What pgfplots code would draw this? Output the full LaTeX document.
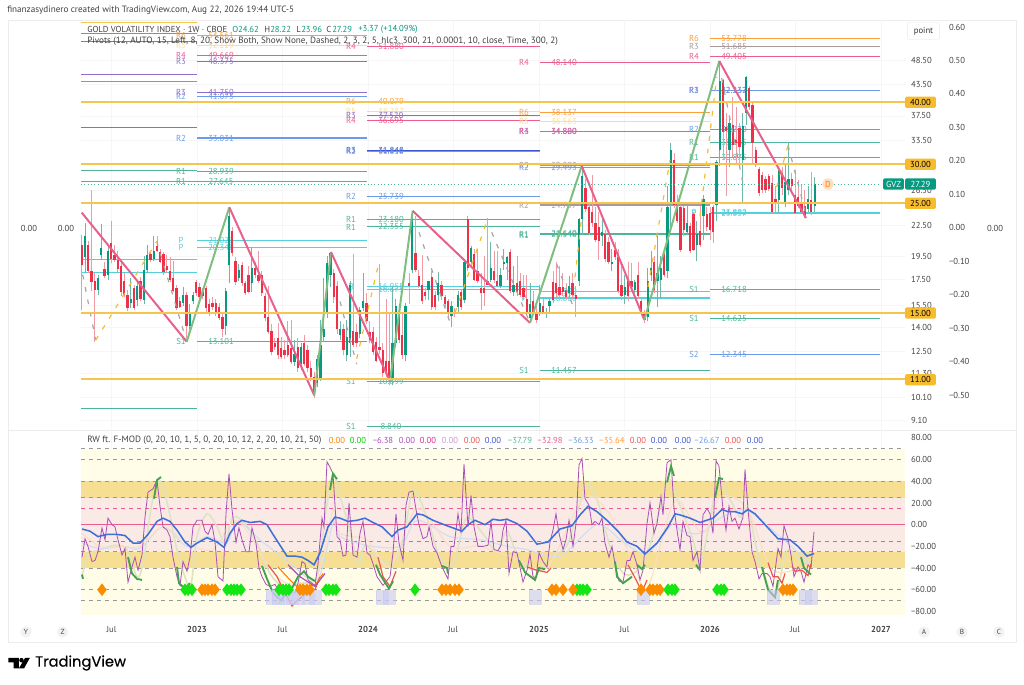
\documentclass[border=0pt]{standalone}
\usepackage{fontspec}
\setmainfont{PT Sans}
\newfontfamily\tvf[FakeBold=0.4]{Poppins}
\usepackage{pgfplots}
\usepackage{pgfplotstable}
\pgfplotsset{compat=1.18}
\definecolor{cup}{HTML}{089981}
\definecolor{cdn}{HTML}{EE3048}
\definecolor{wup}{HTML}{6DB8A6}
\definecolor{wdn}{HTML}{F09AA6}
\definecolor{zpink}{HTML}{E8608C}
\definecolor{zgreen}{HTML}{7FBE80}
\definecolor{lvl}{HTML}{F6C550}
\definecolor{lbox}{HTML}{F7BB2E}
\definecolor{porange}{HTML}{FB9F3A}
\definecolor{pyell}{HTML}{FBDD9A}
\definecolor{ppink}{HTML}{EC5C8E}
\definecolor{ppurp}{HTML}{8E6CC8}
\definecolor{pblue}{HTML}{6B9BE8}
\definecolor{pdblue}{HTML}{3F55D0}
\definecolor{pgreen}{HTML}{4DB69A}
\definecolor{pcyan}{HTML}{56CFDC}
\definecolor{pgray}{HTML}{A89A9A}
\definecolor{tick}{HTML}{444444}
\definecolor{gridc}{HTML}{F6F6F6}
\definecolor{bgy}{HTML}{FFFDE8}
\definecolor{bgg}{HTML}{F6DE92}
\definecolor{bgp}{HTML}{F9EAE6}
\definecolor{osc}{HTML}{AB4FB8}
\definecolor{mab}{HTML}{3F6FD8}
\definecolor{thg}{HTML}{43A14F}
\definecolor{thr}{HTML}{EE5350}
\definecolor{lav}{HTML}{C9C9F2}
\definecolor{dgreen}{HTML}{14E614}
\definecolor{dorange}{HTML}{FB8C00}
\newcommand{\smallf}{\fontsize{6.5}{8}\selectfont}
\newcommand{\legf}{\fontsize{6.85}{8}\selectfont}
\pgfplotstableread{
i o h l c
0 20.6 21.5 15.2 18.7
1 19.4 22.8 18.0 21.4
2 20.6 20.9 18.0 18.2
3 18.2 26.5 16.6 17.3
4 17.4 18.0 13.1 16.7
5 16.7 17.9 16.3 17.6
6 19.6 22.7 19.2 20.3
7 18.4 19.0 17.6 17.8
8 17.9 20.6 17.5 20.0
9 20.7 23.0 18.9 19.3
10 19.6 20.6 19.0 19.2
11 19.2 20.0 18.1 18.4
12 18.6 19.1 16.2 16.5
13 17.4 18.0 16.1 16.3
14 16.3 16.7 15.1 15.3
15 15.7 17.6 15.3 16.0
16 16.8 17.1 15.2 15.3
17 15.9 17.5 15.5 17.0
18 17.4 17.7 15.8 16.0
19 15.9 19.5 15.6 18.3
20 18.3 20.6 18.0 19.6
21 19.7 19.9 19.0 19.2
22 19.3 21.4 19.1 20.0
23 20.5 21.4 19.9 20.0
24 19.9 20.2 18.9 19.0
25 19.7 19.9 17.9 18.1
26 18.6 19.6 18.0 18.3
27 18.2 19.4 17.3 17.5
28 17.6 19.1 16.5 16.6
29 16.8 17.1 15.2 15.3
30 15.8 16.1 15.3 15.4
31 15.7 16.9 15.5 16.3
32 16.3 16.5 13.3 14.1
33 14.1 15.6 13.9 15.0
34 15.8 16.5 15.6 16.3
35 17.3 17.5 16.2 16.4
36 16.9 17.2 16.0 16.1
37 16.5 16.8 16.0 16.2
38 16.8 17.0 15.0 15.3
39 15.6 16.0 14.8 15.0
40 15.7 16.1 15.2 15.4
41 15.7 16.0 14.8 14.9
42 15.4 15.7 14.5 14.6
43 14.7 14.9 13.4 13.9
44 14.1 16.8 13.5 16.6
45 18.7 24.5 17.2 23.5
46 21.9 22.3 19.5 19.8
47 19.1 19.4 17.1 17.3
48 17.6 18.8 17.4 18.3
49 18.7 19.0 17.0 17.2
50 17.2 17.4 16.3 16.4
51 17.9 18.6 16.4 16.5
52 17.2 20.4 16.5 18.5
53 18.5 19.0 17.6 17.9
54 17.9 20.0 17.2 17.4
55 17.9 18.2 16.2 16.4
56 16.2 16.4 14.4 14.6
57 14.7 17.0 13.6 13.7
58 13.8 14.2 12.3 12.5
59 13.0 13.3 12.6 12.8
60 13.3 14.3 12.1 12.3
61 12.7 13.4 12.1 12.2
62 12.6 13.2 12.1 12.3
63 12.9 14.4 12.2 12.3
64 12.7 14.5 11.8 11.9
65 11.9 13.2 11.7 12.4
66 12.8 13.3 11.4 11.6
67 11.8 13.0 11.5 12.8
68 13.0 13.5 11.7 11.8
69 12.6 12.9 11.4 11.6
70 11.6 12.0 10.9 11.1
71 11.1 11.4 10.1 10.3
72 10.8 12.3 10.6 12.1
73 11.0 14.5 10.9 12.9
74 13.4 17.6 13.1 13.9
75 15.0 19.5 14.6 18.9
76 17.9 19.9 16.9 19.8
77 18.0 18.4 15.7 16.1
78 17.0 17.4 13.6 13.9
79 13.5 14.4 13.2 13.9
80 13.9 14.2 12.3 12.6
81 12.3 14.5 12.0 13.4
82 13.0 17.4 12.2 17.1
83 13.8 19.7 12.8 12.9
84 13.7 14.2 12.8 13.0
85 13.6 15.4 13.3 15.2
86 15.3 18.0 15.1 15.8
87 15.7 16.4 14.2 14.4
88 13.7 14.4 13.0 13.2
89 13.7 14.0 12.3 12.5
90 13.1 13.4 11.9 12.0
91 12.8 18.8 12.4 12.6
92 12.6 13.0 11.1 11.3
93 12.0 16.0 11.1 11.3
94 12.0 14.9 10.7 11.0
95 11.0 17.0 10.7 13.0
96 13.0 16.0 12.8 15.5
97 15.0 15.3 13.0 13.2
98 13.5 15.0 12.1 12.3
99 12.3 15.7 12.0 15.5
100 17.2 18.0 15.6 17.0
101 18.3 24.1 18.0 23.4
102 19.8 23.5 18.1 18.3
103 17.8 18.3 16.8 17.0
104 17.1 19.6 15.6 15.8
105 16.5 16.8 15.9 16.2
106 16.7 17.4 15.9 17.4
107 17.7 18.2 15.2 15.4
108 16.3 16.6 15.2 15.4
109 16.3 18.1 15.8 17.2
110 17.1 17.4 15.9 16.2
111 16.1 16.3 15.3 15.6
112 15.8 16.0 14.6 14.9
113 14.8 15.8 14.0 15.5
114 15.0 15.3 14.7 14.9
115 15.4 16.6 15.0 16.3
116 16.5 16.7 15.2 15.4
117 15.9 19.2 15.7 19.0
118 23.2 23.5 18.2 18.5
119 19.0 20.5 18.5 20.3
120 19.7 20.2 17.4 17.5
121 18.2 20.2 17.2 17.4
122 16.8 18.0 15.2 16.4
123 16.8 19.5 15.5 16.4
124 17.4 23.3 17.1 17.1
125 17.5 20.8 17.3 18.5
126 18.2 20.0 17.2 17.5
127 17.4 20.0 16.9 17.0
128 17.0 18.5 16.8 17.9
129 18.8 20.2 18.3 19.0
130 18.9 19.5 17.5 19.4
131 19.9 20.2 16.4 16.6
132 16.5 18.6 16.2 17.1
133 17.2 19.5 16.2 16.5
134 17.4 18.0 16.1 16.3
135 16.8 17.9 15.9 16.1
136 16.0 17.9 14.9 15.0
137 14.6 17.2 14.3 15.6
138 15.8 16.6 14.9 15.0
139 15.0 15.5 14.3 14.5
140 14.9 17.1 14.8 15.7
141 15.5 16.0 14.9 15.0
142 14.9 15.3 14.6 15.0
143 15.5 16.0 15.0 15.8
144 17.3 18.2 15.7 15.9
145 17.2 19.0 16.1 16.4
146 16.9 18.6 16.0 16.3
147 16.9 18.0 16.2 16.5
148 16.7 17.2 16.0 16.1
149 16.4 17.8 16.1 17.0
150 17.2 18.0 16.0 16.3
151 16.3 17.0 14.7 16.0
152 17.4 23.3 17.0 23.2
153 23.2 29.7 21.5 28.4
154 26.8 28.0 24.0 24.3
155 24.5 25.0 21.5 21.7
156 24.0 28.5 22.4 22.8
157 22.8 24.5 20.8 21.0
158 22.4 24.0 19.2 20.9
159 21.4 23.5 20.5 21.8
160 21.6 22.0 19.0 19.3
161 20.8 21.3 18.8 19.0
162 18.8 20.2 18.2 19.0
163 20.1 20.8 19.2 19.4
164 19.4 20.2 16.4 16.6
165 17.1 19.0 15.9 16.2
166 16.3 17.9 15.6 16.9
167 17.4 19.0 15.8 16.2
168 17.4 18.9 16.5 16.9
169 16.7 17.5 16.4 17.3
170 17.9 19.0 16.0 16.2
171 15.8 16.0 14.9 15.1
172 15.0 15.2 14.3 14.5
173 14.7 18.5 14.4 17.4
174 17.9 20.0 17.4 18.5
175 19.0 19.5 16.4 16.7
176 17.4 21.5 15.4 18.0
177 17.5 19.5 16.0 18.5
178 19.7 20.2 17.7 17.9
179 18.2 27.0 17.6 24.5
180 25.0 33.0 22.0 32.0
181 30.5 31.5 24.4 24.8
182 25.0 26.0 22.8 23.0
183 24.5 24.8 19.9 20.1
184 24.4 24.6 21.4 22.0
185 21.8 25.0 21.5 22.8
186 22.5 22.8 19.8 20.0
187 23.7 24.0 20.0 20.1
188 20.6 23.0 19.1 21.6
189 21.9 24.7 20.4 20.6
190 23.5 26.0 21.0 25.5
191 23.7 24.5 21.9 22.4
192 23.9 24.5 21.0 22.0
193 24.5 24.8 20.7 21.8
194 24.8 30.5 23.0 30.2
195 32.0 48.4 29.7 44.2
196 44.3 44.5 30.5 34.8
197 35.6 38.0 25.8 35.0
198 32.0 37.0 29.5 36.3
199 36.0 41.0 31.0 32.8
200 33.5 39.0 30.0 33.0
201 35.5 36.3 29.5 32.5
202 30.5 38.0 25.0 35.8
203 38.0 45.2 36.0 45.0
204 42.7 43.0 38.5 39.0
205 39.4 39.8 30.0 33.0
206 32.0 32.5 29.5 29.8
207 29.3 29.5 25.8 26.2
208 28.5 28.9 26.2 26.5
209 28.0 28.4 26.2 26.6
210 28.3 28.6 26.4 26.7
211 27.4 28.5 23.8 24.0
212 25.5 27.0 24.0 25.0
213 25.4 29.5 23.9 29.0
214 28.8 29.5 26.0 26.8
215 24.9 30.0 24.5 27.6
216 26.6 33.2 26.0 28.0
217 28.0 28.8 26.2 27.0
218 26.0 29.1 23.8 23.9
219 25.7 27.8 24.4 24.7
220 25.0 27.2 23.9 24.0
221 24.6 26.5 23.3 23.4
222 24.3 27.0 24.0 25.5
223 25.4 28.9 23.6 24.0
224 24.62 28.22 23.96 27.29
}\candles
\pgfplotstableread{
x y
82 -30
85 -13
88 -20
92 -34
95 -33
98 -25
102 -3
105 -14
108 6
112 0
115 -2
118 -14
122 -28
125 -22
128 -53
132 -39
135 -30
138 -42
142 -28
145 7
148 30
153 33
157 41
160 17
163 -2
167 -5
170 -11
173 -30
177 -48
180 -56
183 -34
187 -43
190 -30
193 -2
197 4
202 4
205 -6
208 -9
212 0
215 -16
218 -48
223 -52
226 10
229 47
232 14
236 -16
239 -3
242 -14
246 -25
249 -25
252 -3
256 -17
259 -40
262 -48
266 -55
270 -57
275 -55
278 -60
282 -63
287 -63
295 -63
298 -54
302 -34
305 -36
308 -51
312 -54
315 -56
318 -36
322 6
324 -2
327 58
330 53
333 47
337 -11
340 -14
343 -29
346 -28
349 20
353 -28
357 -30
360 -8
363 3
367 -26
370 -28
373 -36
377 -48
383 -56
390 -48
393 -26
396 10
399 -17
403 -33
406 18
409 30
413 31
416 14
419 0
423 -13
427 -11
429 -2
433 -20
437 -26
442 -39
448 -50
451 -20
454 -20
458 10
461 -8
464 56
468 -2
471 27
474 -2
478 -20
483 -20
488 -19
491 3
494 -23
498 -24
501 -19
503 -5
506 4
509 -45
513 -25
517 -26
523 -53
527 -42
530 -27
533 -48
536 -49
539 -26
543 -34
547 -39
550 -16
553 -5
556 10
559 -8
563 -23
566 -14
569 4
573 -20
576 1
579 55
582 61
585 24
589 18
592 0
595 3
599 0
602 6
605 -17
609 -30
612 -20
615 -36
619 -52
623 -53
627 -33
630 -33
633 -25
637 -37
640 -51
643 -42
647 1
650 20
654 -8
657 1
661 26
663 9
667 57
671 60
674 15
677 -5
680 -23
683 3
687 -10
690 -11
693 -33
697 -25
700 -42
703 9
707 15
710 10
713 -8
716 59
719 54
723 14
726 -5
729 17
732 3
735 6
739 -4
743 7
745 51
748 14
752 -25
755 -34
759 -50
762 -45
767 -45
770 -48
773 -57
778 -22
781 -30
784 -1
788 -13
791 -28
794 -48
798 -39
801 -43
804 -53
808 -37
811 -40
814 -6.38
}\oscT
\pgfplotstableread{
x y
82 -4
90 -6
98 -11
107 -9
117 -9
125 -10
133 -17
140 -17
148 -9
157 3
163 6
170 3
177 -5
185 -16
191 -21
197 -17
207 -12
217 -16
224 -21
230 -8
237 1
242 4
250 2
260 3
267 0
273 -9
280 -19
287 -29
295 -29
302 -30
308 -33
314 -37
320 -26
328 -2
335 7
340 6
348 3
357 4
365 6
373 2
382 -2
392 -11
398 -5
407 -2
417 10
423 9
433 4
447 -1
462 -6
468 0
475 4
485 0
493 5
500 4
507 5
517 1
527 -6
537 -18
548 -16
560 -4
572 -1
580 9
588 17
597 12
607 4
618 -6
627 -16
637 -20
645 -27
657 -17
668 -2
675 10
680 9
690 6
700 2
713 6
722 14
728 12
735 12
742 10
748 14
755 10
767 -2
778 -13
790 -14
798 -20
807 -29
814 -26.67
}\maT
\newcommand{\piv}[8]{%
 \addplot[#1,line width=0.8pt,forget plot] coordinates {(#2,#6)(#3,#6)};
 \node[text=#1,font=\smallf] at (axis cs:#4,#6) {#7};
 \node[text=#1,font=\smallf] at (axis cs:#5,#6) {#8};}
\newcommand{\pB}[4]{\piv{#1}{197}{367}{181}{221}{#2}{#3}{#4}}
\newcommand{\pC}[4]{\piv{#1}{367}{540}{351}{391}{#2}{#3}{#4}}
\newcommand{\pD}[4]{\piv{#1}{540}{710}{524}{564}{#2}{#3}{#4}}
\newcommand{\pE}[4]{\piv{#1}{710}{880}{694}{734}{#2}{#3}{#4}}
\newcommand{\pA}[2]{\addplot[#1,line width=0.8pt,forget plot] coordinates {(81,#2)(197,#2)};}
\newcommand{\lev}[1]{\addplot[lvl,line width=1.6pt,forget plot] coordinates {(81,#1)(905,#1)};}
\newcommand{\T}[4][]{\node[anchor=west,inner sep=0pt,text=tick,font=\smallf,#1] at ({#2*0.75pt},{(685-#3)*0.75pt}) {#4};}
\newcommand{\N}[4][]{\node[inner sep=0pt,text=tick,font=\smallf,#1] at ({#2*0.75pt},{(685-#3)*0.75pt}) {#4};}
\newcommand{\B}[3]{\node[fill=#1,rounded corners=1pt,text=black,font=\smallf,minimum width=23pt,minimum height=8.4pt,inner sep=0pt] at ({920.5*0.75pt},{(685-#2)*0.75pt}) {#3};}
\pgfplotsset{ebar/.style={only marks,mark=*,mark size=0pt,mark options={draw=none,fill=none},forget plot,error bars/.cd,y dir=plus,y explicit,error mark=none,error bar style={#1}}}
\begin{document}
\begin{tikzpicture}
\path[fill=white] (0,0) rectangle (768pt,513.75pt);
\draw[color=gray!15,line width=0.5pt] ({8*0.75pt},{(685-20)*0.75pt}) rectangle ({1016*0.75pt},{(685-642)*0.75pt});
\draw[color=gray!15,line width=0.5pt] ({8*0.75pt},{(685-430)*0.75pt}) -- ({1016*0.75pt},{(685-430)*0.75pt});
% ---------- second scale
\begin{axis}[at={(60.75pt,191.25pt)},anchor=south west,scale only axis,width=646.5pt,height=307.5pt,
 xmin=81,xmax=943,ymin=-0.604,ymax=0.621,axis line style={draw=none},tick style={draw=none},
 xtick=\empty,yticklabel pos=right,ytick={0.6,0.5,0.4,0.3,0.2,0.1,0,-0.1,-0.2,-0.3,-0.4,-0.5},
 yticklabels={0.60,0.50,0.40,0.30,0.20,0.10,0.00,−0.10,−0.20,−0.30,−0.40,−0.50},
 y tick label style={font=\smallf,text=tick,xshift=1pt},clip=false]
\addplot[draw=none,forget plot] coordinates {(900,0)(901,0.1)};
\end{axis}
% ---------- price panel
\begin{axis}[at={(60.75pt,191.25pt)},anchor=south west,scale only axis,width=618pt,height=307.5pt,
 xmin=81,xmax=905,ymode=log,ymin=8.686,ymax=58.6,clip=false,
 axis line style={draw=none},tick style={draw=none},grid=major,grid style={gridc,line width=0.5pt},
 xtick={111.5,197,282.5,368,453,539,624.5,710,795,881},xticklabels={},
 ytick={48.5,43.5,37.5,33.5,26.5,22.5,19.5,17.5,15.5,14,12.5,11.3,10.1,9.1},
 yticklabels={48.50,43.50,37.50,33.50,26.50,22.50,19.50,17.50,15.50,14.00,12.50,11.30,10.10,9.10},
 yticklabel pos=right,y tick label style={font=\smallf,text=tick,xshift=1pt}]
\pA{lvl}{58}\pA{ppink}{55}\pA{ppurp}{53.1}\pA{ppurp}{45.4}\pA{pblue}{44.1}\pA{ppurp}{35.5}\pA{pgreen}{29.1}\pA{pgreen}{27.6}\pA{pcyan}{19.2}\pA{pcyan}{18.1}\pA{pgreen}{9.6}
\pB{porange}{54.561}{R6}{54.561}
\pB{pyell}{52.119}{R5}{52.119}
\pB{ppink}{49.669}{R4}{49.669}
\pB{ppurp}{48.375}{R3}{48.375}
\pB{ppurp}{41.750}{R3}{41.750}
\pB{pblue}{41.075}{R2}{41.075}
\pB{pblue}{33.831}{R2}{33.831}
\pB{pgreen}{28.939}{R1}{28.939}
\pB{pgreen}{27.645}{R1}{27.645}
\pB{pcyan}{21.023}{P}{21.023}
\pB{pcyan}{20.348}{P}{20.348}
\pB{pgreen}{13.101}{S1}{13.101}
\pC{ppink}{51.880}{R4}{51.880}
\pC{porange}{40.079}{R6}{40.079}
\pC{pyell}{38.287}{R5}{38.287}
\pC{ppurp}{37.520}{R3}{37.520}
\pC{ppink}{36.695}{R4}{36.695}
\pC{pdblue}{31.848}{R3}{31.848}
\pC{pblue}{31.810}{R2}{31.810}
\pC{pblue}{25.739}{R2}{25.739}
\pC{pgreen}{23.180}{R1}{23.180}
\pC{pgreen}{22.355}{R1}{22.355}
\pC{pcyan}{16.955}{P}{16.955}
\pC{pcyan}{16.675}{P}{16.675}
\pC{pgreen}{10.899}{S1}{10.899}
\pC{pgreen}{8.840}{S1}{8.840}
\pD{ppink}{48.140}{R4}{48.140}
\pD{porange}{38.137}{R6}{38.137}
\pD{pyell}{36.563}{R5}{36.563}
\pD{ppurp}{34.880}{R3}{34.880}
\pD{ppink}{34.800}{R4}{34.800}
\pD{pgray}{29.803}{R3}{29.803}
\pD{pblue}{29.493}{R2}{29.493}
\pD{pgray}{24.757}{R2}{24.757}
\pD{pgreen}{21.640}{R1}{21.640}
\pD{pgreen}{21.540}{R1}{21.540}
\pD{pcyan}{16.530}{P}{16.530}
\pD{pcyan}{16.060}{P}{16.060}
\pD{pgreen}{11.457}{S1}{11.457}
\pE{porange}{53.778}{R6}{53.778}
\pE{pgray}{51.685}{R3}{51.685}
\pE{ppink}{49.405}{R4}{49.405}
\pE{ppurp}{42.232}{R3}{42.232}
\pE{pblue}{42.137}{R2}{42.137}
\pE{pblue}{35.270}{R2}{35.270}
\pE{pgreen}{33.065}{R1}{33.065}
\pE{pgreen}{30.875}{R1}{30.875}
\pE{pcyan}{23.892}{P}{23.892}
\pE{pcyan}{23.837}{P}{23.837}
\pE{pgreen}{16.718}{S1}{16.718}
\pE{pgreen}{14.625}{S1}{14.625}
\pE{pblue}{12.345}{S2}{12.345}
% wicks
\addplot[ebar={wup,line width=0.55pt}]
 table[x expr={\thisrow{c}>=\thisrow{o}?81.7+3.272*\thisrow{i}:nan},y=l,y error expr=\thisrow{h}-\thisrow{l}] {\candles};
\addplot[ebar={wdn,line width=0.55pt}]
 table[x expr={\thisrow{c}<\thisrow{o}?81.7+3.272*\thisrow{i}:nan},y=l,y error expr=\thisrow{h}-\thisrow{l}] {\candles};
% bodies
\addplot[ebar={cup,line width=1.7pt}]
 table[x expr={\thisrow{c}>=\thisrow{o}?81.7+3.272*\thisrow{i}:nan},y=o,y error expr=\thisrow{c}-\thisrow{o}] {\candles};
\addplot[ebar={cdn,line width=1.7pt}]
 table[x expr={\thisrow{c}<\thisrow{o}?81.7+3.272*\thisrow{i}:nan},y=c,y error expr=\thisrow{o}-\thisrow{c}] {\candles};
% dashed legs
\pgfplotsset{gd/.style={color=gray!70,line width=0.9pt,dash pattern=on 3.5pt off 6pt,forget plot},od/.style={color=lbox,line width=0.9pt,dash pattern=on 3.5pt off 6pt,forget plot}}
\addplot[gd] coordinates {(82.7,17.9)(95.7,13.2)};
\addplot[gd] coordinates {(156.7,20.9)(186.7,13.1)};
\addplot[gd] coordinates {(340,15.8)(356.7,11.8)};
\addplot[gd] coordinates {(419,21.8)(451.7,14.0)};
\addplot[gd] coordinates {(491.7,21.8)(530,14.3)};
\addplot[gd] coordinates {(556.7,18.8)(575,15.1)};
\addplot[gd] coordinates {(721.7,44.7)(743,27.4)};
\addplot[gd] coordinates {(788,32.7)(806,23.7)};
\addplot[od] coordinates {(95.7,13.2)(156.7,20.9)};
\addplot[od] coordinates {(356.7,12.1)(379,19.0)};
\addplot[od] coordinates {(455,15.0)(486.7,22.9)};
\addplot[od] coordinates {(575,17.7)(582,23.7)};
\addplot[od] coordinates {(648,16.9)(670,30.5)};
\addplot[od] coordinates {(700,23.5)(716.7,44.9)};
\addplot[od] coordinates {(776.7,26.9)(788,32.7)};
% zigzag
\addplot[zpink,line width=1.5pt,forget plot] coordinates {(81.7,23.9)(186.7,13.1)};
\addplot[zgreen,line width=1.5pt,forget plot] coordinates {(186.7,13.1)(229.3,24.5)};
\addplot[zpink,line width=1.5pt,forget plot] coordinates {(229.3,24.5)(314.3,10.2)};
\addplot[zgreen,line width=1.5pt,forget plot] coordinates {(314.3,10.2)(331,19.9)};
\addplot[zpink,line width=1.5pt,forget plot] coordinates {(331,19.9)(390,10.9)};
\addplot[zgreen,line width=1.5pt,forget plot] coordinates {(390,10.9)(412.7,24.1)};
\addplot[zpink,line width=1.5pt,forget plot] coordinates {(412.7,24.1)(530,14.3)};
\addplot[zgreen,line width=1.5pt,forget plot] coordinates {(530,14.3)(581.7,29.7)};
\addplot[zpink,line width=1.5pt,forget plot] coordinates {(581.7,29.7)(644.3,14.5)};
\addplot[zgreen,line width=1.5pt,forget plot] coordinates {(644.3,14.5)(719.3,48.4)};
\addplot[zpink,line width=1.5pt,forget plot] coordinates {(719.3,48.4)(806,23.3)};
% levels and last price
\addplot[pgreen,line width=0.5pt,dotted,forget plot] coordinates {(81,27.29)(880,27.29)};
\lev{40}\lev{30}\lev{25}\lev{15}\lev{11}
\end{axis}
% ---------- oscillator panel
\begin{axis}[at={(60.75pt,52.5pt)},anchor=south west,scale only axis,width=618pt,height=138.75pt,
 xmin=81,xmax=905,ymin=-83.3,ymax=87.3,clip=false,
 axis line style={draw=none},tick style={draw=none},x grid style={gridc,line width=0.5pt},xmajorgrids,
 xtick={111.5,197,282.5,368,453,539,624.5,710,795,881},
 xticklabels={Jul,\textbf{2023},Jul,\textbf{2024},Jul,\textbf{2025},Jul,\textbf{2026},Jul,\textbf{2027}},
 x tick label style={font=\smallf,text=tick,yshift=-5.2pt},
 ytick={80,60,40,20,0,-20,-40,-60,-80},
 yticklabels={80.00,60.00,40.00,20.00,0.00,−20.00,−40.00,−60.00,−80.00},
 yticklabel pos=right,y tick label style={font=\smallf,text=tick,xshift=1pt}]
\addplot[fill=bgy,draw=none,forget plot] coordinates {(81,70)(905,70)(905,-83.3)(81,-83.3)} -- cycle;
\addplot[fill=bgp,draw=none,forget plot] coordinates {(81,25)(905,25)(905,-25)(81,-25)} -- cycle;
\addplot[fill=bgg,draw=none,forget plot] coordinates {(81,40)(905,40)(905,25)(81,25)} -- cycle;
\addplot[fill=bgg,draw=none,forget plot] coordinates {(81,-25)(905,-25)(905,-40)(81,-40)} -- cycle;
\pgfplotsset{gl/.style={color=gray!80,line width=0.45pt,dash pattern=on 3pt off 3pt,forget plot},pl/.style={color=ppink,line width=0.5pt,dash pattern=on 3pt off 3pt,forget plot}}
\addplot[gl] coordinates {(81,70)(905,70)};
\addplot[gl] coordinates {(81,60)(905,60)};
\addplot[gl] coordinates {(81,40)(905,40)};
\addplot[gl] coordinates {(81,25)(905,25)};
\addplot[pl] coordinates {(81,15)(905,15)};
\addplot[ppink,line width=0.5pt,forget plot] coordinates {(81,0)(905,0)};
\addplot[pl] coordinates {(81,-15)(905,-15)};
\addplot[gl] coordinates {(81,-25)(905,-25)};
\addplot[gl] coordinates {(81,-40)(905,-40)};
\addplot[gl] coordinates {(81,-60)(905,-60)};
\addplot[gl] coordinates {(81,-70)(905,-70)};
% faded lines
\addplot[color={rgb,255:red,222;green,228;blue,195},line width=1.2pt,forget plot,smooth] coordinates {(82,-48)(88,-28)(100,-23)(115,-19)(127,-23)(137,-48)(143,-36)(152,20)(160,40)(168,17)(177,-23)(190,-57)(197,-11)(207,10)(217,-2)(225,-17)(233,7)(245,1)(257,-17)(270,-45)(283,-57)(300,-54)(317,-48)(325,7)(333,46)(340,26)(350,-5)(358,-36)(365,-19)(377,-29)(390,-36)(402,-20)(412,30)(420,23)(430,-2)(440,-31)(453,-36)(465,4)(473,3)(485,-11)(497,-25)(507,-6)(520,-34)(537,-42)(550,-30)(567,-19)(580,20)(588,37)(598,20)(612,-26)(625,-46)(640,-40)(652,-13)(668,41)(678,22)(693,-14)(700,-39)(708,-5)(718,38)(730,23)(740,7)(748,14)(760,-36)(775,-65)(787,-24)(800,-33)(813,-36)};
\addplot[color={rgb,255:red,210;green,220;blue,242},line width=0.8pt,forget plot,smooth] coordinates {(82,-17)(100,-22)(123,-20)(140,-22)(163,-2)(187,-20)(207,-11)(227,-17)(237,4)(260,-14)(287,-33)(317,-51)(333,1)(340,-11)(367,-19)(400,-20)(417,4)(450,-11)(480,-14)(507,-20)(527,-23)(560,-29)(597,0)(623,-16)(647,-26)(673,1)(680,-5)(700,-8)(720,6)(747,13)(780,-11)(810,-36)};
\addplot[color={rgb,255:red,250;green,222;blue,196},line width=0.8pt,forget plot,smooth] coordinates {(82,-8)(100,-20)(123,-20)(140,-20)(163,-2)(187,-17)(213,-23)(237,4)(267,-36)(287,-54)(317,-48)(333,13)(340,-8)(367,-14)(390,-39)(417,15)(450,-20)(480,-20)(517,-32)(547,-40)(583,24)(607,13)(633,-34)(647,-60)(670,13)(680,21)(703,-8)(720,26)(747,15)(773,-42)(810,-36)};
% lavender blocks
\addplot[only marks,mark=square*,mark size=4.4pt,mark options={fill=lav,draw=lav,fill opacity=0.6,draw opacity=0.6,yscale=1.15},forget plot] coordinates {(272,-67)(278,-67)(285,-67)(292,-67)(298,-67)(308,-67)(315,-67)(382,-67)(389,-67)(535,-67)(643,-67)(773,-67)(805,-67)(811,-67)};
% diamonds
\addplot[only marks,mark=diamond*,mark size=4.4pt,mark options={fill=dgreen,draw=dgreen},forget plot] coordinates {(185,-60)(188,-60)(192,-60)(227,-60)(231,-60)(234,-60)(237,-60)(241,-60)(279,-60)(283,-60)(286,-60)(289,-60)(326,-60)(329,-60)(333,-60)(336,-60)(415,-60)(577,-60)(580,-60)(583,-60)(587,-60)(668,-60)(672,-60)(675,-60)(717,-60)(721,-60)(724,-60)};
\addplot[only marks,mark=diamond*,mark size=4.4pt,mark options={fill=dorange,draw=dorange},forget plot] coordinates {(102,-60)(202,-60)(205,-60)(208,-60)(212,-60)(215,-60)(300,-60)(303,-60)(307,-60)(310,-60)(442,-60)(446,-60)(450,-60)(455,-60)(459,-60)(552,-60)(556,-60)(563,-60)(573,-60)(641,-60)(650,-60)(653,-60)(657,-60)(660,-60)(783,-60)(787,-60)(790,-60)(793,-60)};
% oscillator
\addplot[osc,line width=0.6pt,forget plot] table[x=x,y=y] {\oscT};
% thick fragments
\pgfplotsset{tg/.style={thg,line width=1.4pt,forget plot},tr/.style={thr,line width=0.9pt,forget plot}}
\addplot[tr] coordinates {(268,-37)(277,-48)(283,-59)(292,-75)(297,-70)(307,-63)(315,-60)(320,-48)};
\addplot[orange,line width=0.8pt,forget plot] coordinates {(278,-39)(290,-51)(297,-57)(315,-56)(323,-45)};
\addplot[osc,line width=0.9pt,forget plot] coordinates {(288,-37)(300,-48)(315,-57)(325,-45)};
\addplot[tr] coordinates {(378,-30)(383,-48)(390,-57)(396,-43)};
\addplot[tr] coordinates {(527,-39)(537,-42)(547,-44)(551,-40)};
\addplot[tr] coordinates {(628,-37)(635,-49)(642,-62)(647,-51)};
\addplot[tr] coordinates {(768,-35)(773,-48)(778,-48)(782,-54)(785,-45)};
\addplot[tr] coordinates {(792,-38)(795,-43)(802,-42)(808,-47)(811,-36)};
\addplot[tg] coordinates {(82,-46)(83,-50)};
\addplot[tg] coordinates {(154,24)(157,41)(161,44)};
\addplot[tg] coordinates {(128,-30)(132,-45)(137,-50)(142,-51)};
\addplot[tg] coordinates {(177,-39)(179,-54)(185,-59)(190,-54)};
\addplot[tg] coordinates {(262,-38)(267,-50)(273,-63)(281,-70)(287,-63)(293,-57)(298,-48)(304,-43)(308,-48)(315,-52)};
\addplot[tg] coordinates {(330,32)(333,47)(337,42)};
\addplot[tg] coordinates {(376,-37)(380,-46)(389,-59)(393,-52)};
\addplot[tg] coordinates {(442,-38)(447,-40)(448,-45)};
\addplot[tg] coordinates {(519,-33)(525,-44)(535,-51)(539,-40)(545,-41)};
\addplot[tg] coordinates {(615,-34)(617,-48)(623,-54)(632,-48)};
\addplot[tg] coordinates {(637,-37)(642,-41)(645,-37)};
\addplot[tg] coordinates {(667,39)(671,54)(674,45)};
\addplot[tg] coordinates {(696,-37)(700,-42)};
\addplot[tg] coordinates {(715,25)(719,43)(723,42)};
\addplot[tg] coordinates {(762,-39)(768,-60)(775,-67)(778,-51)};
\addplot[tg] coordinates {(801,-30)(804,-40)(811,-46)};
\addplot[mab,line width=1.15pt,forget plot] table[x=x,y=y] {\maT};
\end{axis}
% ---------- overlays
\T[text=black!75,font=\legf]{7}{10}{finanzasydinero created with TradingView.com, Aug 22, 2026 19:44 UTC-5}
\T[text=black!75]{87}{29}{GOLD VOLATILITY INDEX · 1W · CBOE}
\T[text=cup]{232}{29}{O24.62}\T[text=black!75]{264}{29}{H}\T[text=cup]{270}{29}{28.22}
\T[text=black!75]{296}{29}{L}\T[text=cup]{301}{29}{23.96}\T[text=black!75]{326}{29}{C}\T[text=cup]{332}{29}{27.29}
\T[text=cup]{358}{29}{+3.37 (+14.09\%)}
\T[text=black!75,font=\legf]{87}{41.5}{Pivots (12, AUTO, 15, Left, 8, 20, Show Both, Show None, Dashed, 2, 3, 2, 5, hlc3, 300, 21, 0.0001, 10, close, Time, 300, 2)}
\T[text=black!75,font=\legf]{87}{440}{RW ft. F-MOD (0, 20, 10, 1, 5, 0, 20, 10, 12, 2, 20, 10, 21, 50)}
\N[text=orange]{337}{440}{0.00}\N[text=green!80!black]{358}{440}{0.00}\N[text=osc]{383}{440}{−6.38}
\N[text=osc]{407}{440}{0.00}\N[text=magenta!70!osc]{428}{440}{0.00}\N[text=osc!60]{450}{440}{0.00}
\N[text=thr]{472}{440}{0.00}\N[text=pdblue]{493}{440}{0.00}\N[text=pgreen]{520}{440}{−37.79}
\N[text=ppink]{550}{440}{−32.98}\N[text=pblue]{581}{440}{−36.33}\N[text=orange!80]{612}{440}{−35.64}
\N[text=thr]{638}{440}{0.00}\N[text=pdblue]{659}{440}{0.00}\N[text=pdblue]{683}{440}{0.00}
\N[text=pblue]{707}{440}{−26.67}\N[text=thr]{733}{440}{0.00}\N[text=pdblue]{755}{440}{0.00}
\N{29}{228}{0.00}\N{66}{228}{0.00}\N{995}{228}{0.00}
\node[draw=gray!12,fill=white,rounded corners=1.5pt,minimum width=24pt,minimum height=13pt,inner sep=0pt,font=\smallf,text=black!80] at ({923.5*0.75pt},{(685-31)*0.75pt}) {point};
\B{lbox}{102.3}{40.00}\B{lbox}{164.3}{30.00}\B{lbox}{203.3}{25.00}\B{lbox}{313}{15.00}\B{lbox}{379.7}{11.00}
\node[fill=cup,rounded corners=1pt,text=white,font=\smallf,minimum width=15.5pt,minimum height=8.4pt,inner sep=0pt] at ({893.5*0.75pt},{(685-184)*0.75pt}) {GVZ};
\node[fill=cup,rounded corners=1pt,text=white,font=\smallf,minimum width=23pt,minimum height=8.4pt,inner sep=0pt] at ({920.5*0.75pt},{(685-184)*0.75pt}) {27.29};
\node[circle,fill=orange!25,inner sep=0.8pt,text=orange,font=\smallf] at ({828*0.75pt},{(685-184)*0.75pt}) {D};
\foreach \xx/\lab in {26/Y,62.5/Z,924/A,962/B,999/C}{
 \node[circle,fill=gray!10,minimum size=8.5pt,inner sep=0pt,text=tick,font=\fontsize{5.5}{6}\selectfont] at ({\xx*0.75pt},{(685-632)*0.75pt}) {\lab};}
% logo
\fill[black] ({8.3*0.75pt},{(685-658)*0.75pt}) -- ({18.8*0.75pt},{(685-658)*0.75pt}) -- ({18.8*0.75pt},{(685-668.5)*0.75pt}) -- ({13.5*0.75pt},{(685-668.5)*0.75pt}) -- ({13.5*0.75pt},{(685-662.5)*0.75pt}) -- ({8.3*0.75pt},{(685-662.5)*0.75pt}) -- cycle;
\fill[black] ({21.5*0.75pt},{(685-660.2)*0.75pt}) circle (1.7pt);
\fill[black] ({25*0.75pt},{(685-658)*0.75pt}) -- ({29.8*0.75pt},{(685-658)*0.75pt}) -- ({24*0.75pt},{(685-668.5)*0.75pt}) -- ({18.8*0.75pt},{(685-668.5)*0.75pt}) -- cycle;
\node[anchor=west,inner sep=0pt,font=\tvf\fontsize{11}{13}\selectfont,text=black] at ({35*0.75pt},{(685-663)*0.75pt}) {TradingView};
\end{tikzpicture}
\end{document}
